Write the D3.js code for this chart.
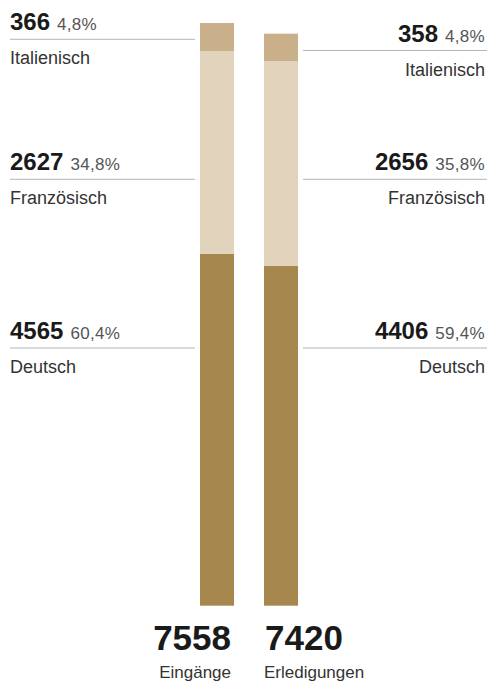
<!DOCTYPE html>
<html>
<head>
<meta charset="utf-8">
<script src="https://cdn.jsdelivr.net/npm/d3@7"></script>
<style>
  body { margin: 0; background: #fff; }
  text { font-family: "Liberation Sans", Arial, sans-serif; }
  .num { font-weight: bold; }
</style>
</head>
<body>
<div class="canvas"></div>
<script>
// data
const languages = ['Deutsch', 'Französisch', 'Italienisch'];
const eingaenge = [4565, 2627, 366];
const erledigungen = [4406, 2656, 358];
const pctEingaenge = ['60,4%', '34,8%', '4,8%'];
const pctErledigungen = ['59,4%', '35,8%', '4,8%'];
const totals = [7558, 7420];
const columns = ['Eingänge', 'Erledigungen'];

const colors = ['#a6884f', '#e2d4bc', '#c9b08a'];

const width = 488, height = 686;

const svg = d3.select('.canvas').append('svg')
    .attr('width', width)
    .attr('height', height);

const x = d3.scaleBand()
    .domain(columns)
    .range([200, 298])
    .paddingInner(30 / 64);

const y = d3.scaleLinear()
    .domain([0, d3.max(totals)])
    .range([605.7, 23]);

const series = [eingaenge, erledigungen];

// stacked bars
series.forEach((vals, i) => {
    let acc = 0;
    const g = svg.append('g');
    vals.forEach((v, j) => {
        g.append('rect')
            .attr('x', x(columns[i]))
            .attr('width', x.bandwidth())
            .attr('y', y(acc + v))
            .attr('height', y(acc) - y(acc + v))
            .attr('fill', colors[j]);
        acc += v;
    });
});

// label line positions (layout)
const lineY = [[348, 179.3, 39.3], [348, 179.3, 50.5]];
const pcts = [pctEingaenge, pctErledigungen];

series.forEach((vals, i) => {
    const left = i === 0;
    const x1 = left ? 10 : 303;
    const x2 = left ? 195 : 487;
    const tx = left ? 10 : 485;
    vals.forEach((v, j) => {
        const ly = lineY[i][j];
        svg.append('line')
            .attr('x1', x1).attr('x2', x2)
            .attr('y1', ly).attr('y2', ly)
            .attr('stroke', '#b5b5b5')
            .attr('stroke-width', 1);

        const t = svg.append('text')
            .attr('x', tx)
            .attr('y', ly - 9)
            .attr('text-anchor', left ? 'start' : 'end')
            .attr('fill', '#1a1a1a');
        t.append('tspan')
            .attr('class', 'num')
            .attr('font-size', 24)
            .text(v);
        t.append('tspan')
            .attr('font-size', 17)
            .attr('fill', '#555')
            .attr('letter-spacing', 0.3)
            .attr('dx', 7)
            .text(pcts[i][j]);

        svg.append('text')
            .attr('x', tx)
            .attr('y', ly + 25)
            .attr('text-anchor', left ? 'start' : 'end')
            .attr('font-size', 18)
            .attr('fill', '#333')
            .text(languages[j]);
    });
});

// totals
columns.forEach((c, i) => {
    const left = i === 0;
    svg.append('text')
        .attr('class', 'num')
        .attr('x', left ? x(c) + x.bandwidth() - 3 : x(c) + 1)
        .attr('y', 650)
        .attr('text-anchor', left ? 'end' : 'start')
        .attr('font-size', 35)
        .attr('fill', '#1a1a1a')
        .text(totals[i]);
    svg.append('text')
        .attr('x', left ? x(c) + x.bandwidth() - 3 : x(c))
        .attr('y', 678)
        .attr('text-anchor', left ? 'end' : 'start')
        .attr('font-size', 17)
        .attr('fill', '#333')
        .text(c);
});
</script>
</body>
</html>
